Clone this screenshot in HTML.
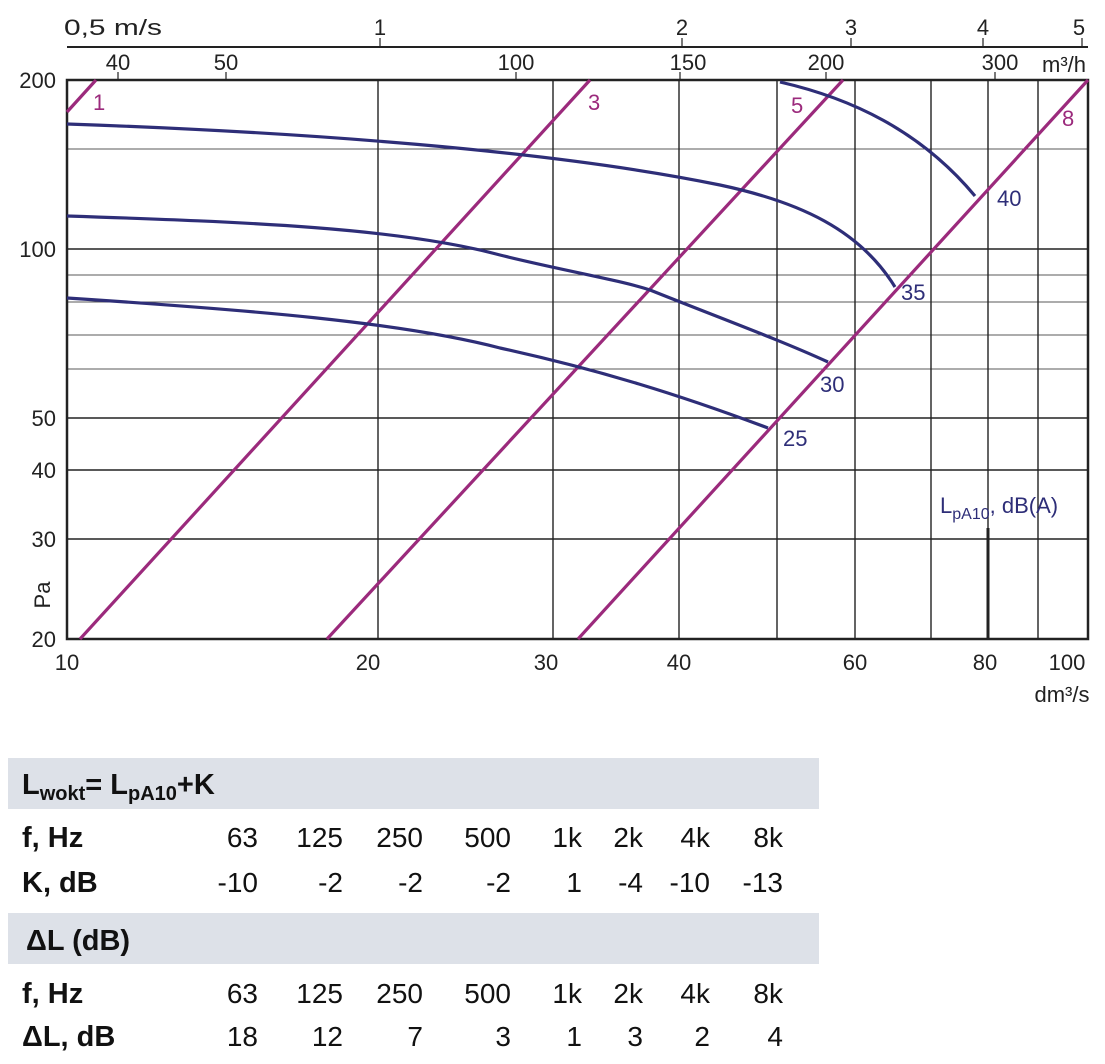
<!DOCTYPE html>
<html><head><meta charset="utf-8"><style>
body{margin:0;background:#fff;}
svg text{font-family:"Liberation Sans",sans-serif;}
</style></head><body>
<svg width="1105" height="1059" viewBox="0 0 1105 1059" xmlns="http://www.w3.org/2000/svg">
<!-- top m/s axis -->
<line x1="67" y1="47" x2="1088" y2="47" stroke="#222" stroke-width="2"/>
<g stroke="#222" stroke-width="1.2">
<line x1="380" y1="38" x2="380" y2="47"/><line x1="682" y1="38" x2="682" y2="47"/>
<line x1="851" y1="38" x2="851" y2="47"/><line x1="983" y1="38" x2="983" y2="47"/>
<line x1="1082" y1="38" x2="1082" y2="47"/>
<line x1="118" y1="72" x2="118" y2="80"/><line x1="226" y1="72" x2="226" y2="80"/>
<line x1="516" y1="72" x2="516" y2="80"/><line x1="680" y1="72" x2="680" y2="80"/>
<line x1="826" y1="72" x2="826" y2="80"/><line x1="995" y1="72" x2="995" y2="80"/>
</g>
<g font-size="22" fill="#222" transform="scale(1,1)">
<text x="64" y="35" textLength="98" lengthAdjust="spacingAndGlyphs">0,5  m/s</text>
<text x="380" y="35" text-anchor="middle">1</text>
<text x="682" y="35" text-anchor="middle">2</text>
<text x="851" y="35" text-anchor="middle">3</text>
<text x="983" y="35" text-anchor="middle">4</text>
<text x="1079" y="35" text-anchor="middle">5</text>
<text x="118" y="70" text-anchor="middle">40</text>
<text x="226" y="70" text-anchor="middle">50</text>
<text x="516" y="70" text-anchor="middle">100</text>
<text x="688" y="70" text-anchor="middle">150</text>
<text x="826" y="70" text-anchor="middle">200</text>
<text x="1000" y="70" text-anchor="middle">300</text>
<text x="1064" y="72" text-anchor="middle">m³/h</text>
</g>
<!-- grid -->
<g stroke="#222" stroke-width="0.8">
<line x1="67" y1="149" x2="1088" y2="149"/>
<line x1="67" y1="275" x2="1088" y2="275"/>
<line x1="67" y1="302" x2="1088" y2="302"/>
<line x1="67" y1="335" x2="1088" y2="335"/>
<line x1="67" y1="369" x2="1088" y2="369"/>
</g>
<g stroke="#222" stroke-width="1.4">
<line x1="67" y1="249" x2="1088" y2="249"/>
<line x1="67" y1="418" x2="1088" y2="418"/>
<line x1="67" y1="470" x2="1088" y2="470"/>
<line x1="67" y1="539" x2="1088" y2="539"/>
<line x1="378" y1="80" x2="378" y2="639"/><line x1="553" y1="80" x2="553" y2="639"/>
<line x1="679" y1="80" x2="679" y2="639"/><line x1="777" y1="80" x2="777" y2="639"/>
<line x1="855" y1="80" x2="855" y2="639"/><line x1="931" y1="80" x2="931" y2="639"/>
<line x1="988" y1="80" x2="988" y2="639"/><line x1="1038" y1="80" x2="1038" y2="639"/>
</g>
<rect x="67" y="80" width="1021" height="559" fill="none" stroke="#222" stroke-width="2.5"/>
<line x1="988" y1="528" x2="988" y2="639" stroke="#222" stroke-width="3"/>
<!-- magenta lines -->
<g stroke="#9b2a7c" stroke-width="3.2" fill="none">
<line x1="67" y1="112" x2="96" y2="80"/>
<line x1="80" y1="639" x2="590" y2="80"/>
<line x1="327" y1="639" x2="843" y2="80"/>
<line x1="578" y1="639" x2="1088" y2="80"/>
</g>
<!-- blue curves -->
<g stroke="#2e2e78" stroke-width="3.2" fill="none">
<path d="M780,82 C850,98 920,130 975,196"/>
<path d="M67,124 C300,132 550,150 720,185 C800,202 860,230 895,287"/>
<path d="M67,216 C250,222 400,228 500,255 C560,270 620,280 650,290 C720,318 780,340 828,362"/>
<path d="M67,298 C250,310 400,322 500,348 C600,370 680,395 768,428"/>
</g>
<g font-size="22">
<text x="93" y="110" fill="#9b2a7c">1</text>
<text x="588" y="110" fill="#9b2a7c">3</text>
<text x="791" y="113" fill="#9b2a7c">5</text>
<text x="1062" y="126" fill="#9b2a7c">8</text>
<text x="997" y="206" fill="#2e2e78">40</text>
<text x="901" y="300" fill="#2e2e78">35</text>
<text x="820" y="392" fill="#2e2e78">30</text>
<text x="783" y="446" fill="#2e2e78">25</text>
<text x="940" y="513" fill="#2e2e78">L<tspan font-size="16" dy="6">pA10</tspan><tspan dy="-6">, dB(A)</tspan></text>
</g>
<!-- axis labels -->
<g font-size="22" fill="#222">
<text x="56" y="88" text-anchor="end">200</text>
<text x="56" y="257" text-anchor="end">100</text>
<text x="56" y="426" text-anchor="end">50</text>
<text x="56" y="478" text-anchor="end">40</text>
<text x="56" y="547" text-anchor="end">30</text>
<text x="56" y="647" text-anchor="end">20</text>
<text x="50" y="595" transform="rotate(-90 50 595)" text-anchor="middle">Pa</text>
<text x="67" y="670" text-anchor="middle">10</text>
<text x="368" y="670" text-anchor="middle">20</text>
<text x="546" y="670" text-anchor="middle">30</text>
<text x="679" y="670" text-anchor="middle">40</text>
<text x="855" y="670" text-anchor="middle">60</text>
<text x="985" y="670" text-anchor="middle">80</text>
<text x="1067" y="670" text-anchor="middle">100</text>
<text x="1062" y="702" text-anchor="middle">dm³/s</text>
</g>
<!-- table -->
<rect x="8" y="758" width="811" height="51" fill="#dde1e8"/>
<rect x="8" y="913" width="811" height="51" fill="#dde1e8"/>
<g font-size="29" font-weight="bold" fill="#111">
<text x="22" y="794">L<tspan font-size="20" dy="6">wokt</tspan><tspan dy="-6">= L</tspan><tspan font-size="20" dy="6">pA10</tspan><tspan dy="-6">+K</tspan></text>
<text x="22" y="847">f, Hz</text>
<text x="22" y="892">K, dB</text>
<text x="26" y="950">ΔL (dB)</text>
<text x="22" y="1003">f, Hz</text>
<text x="22" y="1046">ΔL, dB</text>
</g>
<g font-size="28" fill="#111" text-anchor="end">
<text x="258" y="847">63</text><text x="343" y="847">125</text><text x="423" y="847">250</text><text x="511" y="847">500</text><text x="582" y="847">1k</text><text x="643" y="847">2k</text><text x="710" y="847">4k</text><text x="783" y="847">8k</text>
<text x="258" y="892">-10</text><text x="343" y="892">-2</text><text x="423" y="892">-2</text><text x="511" y="892">-2</text><text x="582" y="892">1</text><text x="643" y="892">-4</text><text x="710" y="892">-10</text><text x="783" y="892">-13</text>
<text x="258" y="1003">63</text><text x="343" y="1003">125</text><text x="423" y="1003">250</text><text x="511" y="1003">500</text><text x="582" y="1003">1k</text><text x="643" y="1003">2k</text><text x="710" y="1003">4k</text><text x="783" y="1003">8k</text>
<text x="258" y="1046">18</text><text x="343" y="1046">12</text><text x="423" y="1046">7</text><text x="511" y="1046">3</text><text x="582" y="1046">1</text><text x="643" y="1046">3</text><text x="710" y="1046">2</text><text x="783" y="1046">4</text>
</g>
</svg>
</body></html>
